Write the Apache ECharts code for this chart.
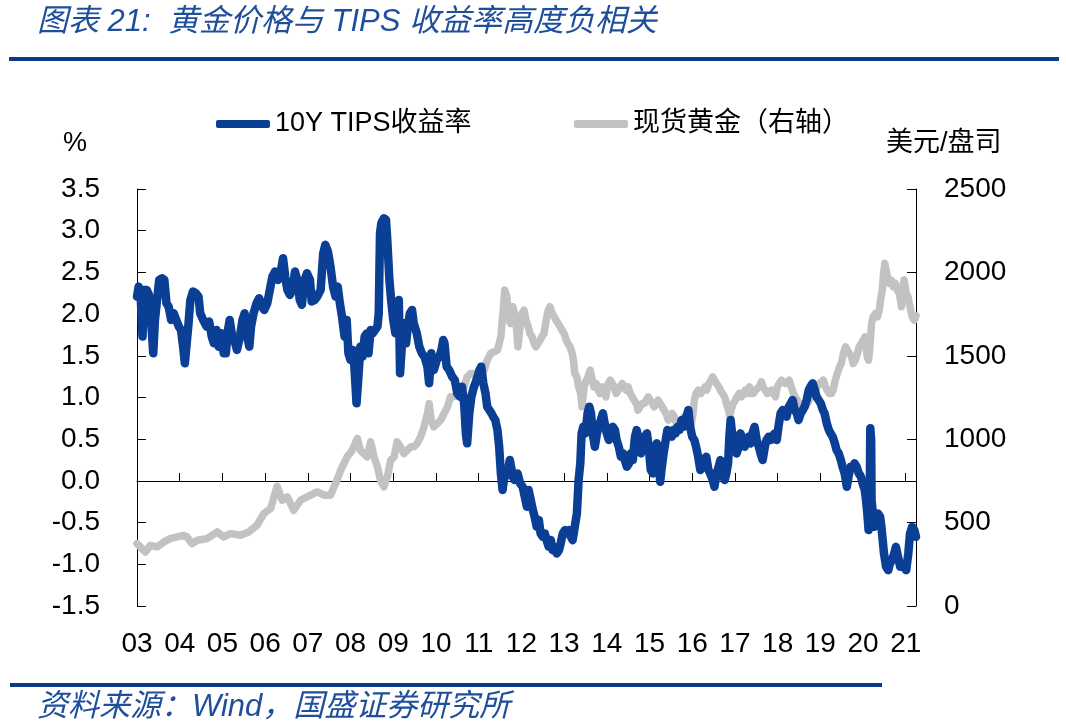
<!DOCTYPE html>
<html>
<head>
<meta charset="utf-8">
<script src="https://cdn.jsdelivr.net/npm/echarts@6/dist/echarts.min.js"></script>
<style>html,body{margin:0;padding:0;background:#fff;}#c{width:1066px;height:727px;}</style>
</head>
<body>
<div id="c"></div>
<script>
// ---- data ----
const tipsDates = [
2003.00,2003.04,2003.08,2003.13,2003.17,2003.23,2003.28,2003.33,2003.38,2003.42,2003.47,2003.52,2003.59,2003.64,2003.69,2003.74,2003.80,2003.86,2003.92,2003.98,
2004.03,2004.08,2004.12,2004.16,2004.20,2004.25,2004.31,2004.38,2004.44,2004.48,2004.55,2004.63,2004.69,2004.75,2004.80,2004.86,2004.91,2004.97,
2005.03,2005.08,2005.13,2005.17,2005.23,2005.28,2005.34,2005.41,2005.47,2005.52,2005.58,2005.63,2005.67,2005.73,2005.80,2005.86,2005.93,2005.98,
2006.05,2006.11,2006.17,2006.23,2006.30,2006.36,2006.42,2006.47,2006.52,2006.58,2006.64,2006.70,2006.77,2006.81,2006.86,2006.92,2006.98,
2007.05,2007.09,2007.16,2007.22,2007.30,2007.36,2007.41,2007.47,2007.53,2007.59,2007.65,2007.70,2007.75,2007.80,2007.86,2007.91,2007.95,
2008.00,2008.05,2008.09,2008.14,2008.19,2008.23,2008.28,2008.33,2008.38,2008.42,2008.47,2008.52,2008.56,2008.63,2008.66,2008.69,2008.72,2008.78,2008.83,2008.86,2008.91,2008.95,
2009.00,2009.05,2009.09,2009.13,2009.16,2009.20,2009.25,2009.30,2009.34,2009.39,2009.44,2009.48,2009.55,2009.61,2009.67,2009.73,2009.80,2009.84,2009.89,2009.95,
2010.02,2010.08,2010.13,2010.17,2010.20,2010.25,2010.31,2010.38,2010.44,2010.50,2010.56,2010.61,2010.66,2010.70,2010.73,2010.78,2010.83,2010.89,2010.95,
2011.02,2011.06,2011.11,2011.16,2011.20,2011.25,2011.30,2011.34,2011.39,2011.44,2011.48,2011.52,2011.56,2011.59,2011.64,2011.69,2011.73,2011.80,2011.84,2011.91,2011.97,
2012.03,2012.08,2012.13,2012.17,2012.22,2012.27,2012.31,2012.36,2012.41,2012.45,2012.50,2012.55,2012.59,2012.64,2012.69,2012.73,2012.78,2012.83,2012.88,2012.92,2012.97,
2013.02,2013.06,2013.11,2013.16,2013.20,2013.25,2013.30,2013.34,2013.38,2013.41,2013.45,2013.50,2013.55,2013.59,2013.63,2013.67,2013.72,2013.77,2013.81,2013.86,2013.91,2013.95,
2014.00,2014.05,2014.09,2014.14,2014.19,2014.23,2014.28,2014.33,2014.38,2014.42,2014.47,2014.52,2014.56,2014.61,2014.66,2014.70,2014.75,2014.80,2014.84,2014.89,2014.94,2014.98,
2015.03,2015.08,2015.13,2015.17,2015.22,2015.25,2015.28,2015.33,2015.38,2015.42,2015.47,2015.52,2015.56,2015.61,2015.66,2015.70,2015.75,2015.80,2015.84,2015.91,2015.95,
2016.00,2016.05,2016.09,2016.14,2016.19,2016.23,2016.28,2016.33,2016.38,2016.42,2016.48,2016.52,2016.57,2016.62,2016.66,2016.71,2016.76,2016.80,2016.84,2016.87,2016.90,2016.95,2016.99,
2017.04,2017.09,2017.13,2017.18,2017.23,2017.27,2017.32,2017.37,2017.41,2017.46,2017.51,2017.56,2017.60,2017.65,2017.70,2017.74,2017.79,2017.84,2017.88,2017.93,2017.98,
2018.02,2018.07,2018.12,2018.16,2018.21,2018.26,2018.31,2018.35,2018.40,2018.45,2018.49,2018.54,2018.59,2018.63,2018.68,2018.73,2018.77,2018.82,2018.87,2018.91,2018.96,
2019.01,2019.06,2019.10,2019.15,2019.20,2019.24,2019.29,2019.34,2019.38,2019.43,2019.48,2019.52,2019.57,2019.62,2019.66,2019.71,2019.76,2019.80,2019.85,2019.90,2019.95,2019.99,
2020.04,2020.07,2020.10,2020.13,2020.15,2020.16,2020.17,2020.19,2020.20,2020.23,2020.26,2020.31,2020.35,2020.40,2020.43,2020.46,2020.49,2020.54,2020.59,2020.63,2020.68,2020.73,2020.77,2020.82,2020.87,2020.91,2020.96,
2021.01,2021.06,2021.10,2021.15,2021.20,2021.24
];
const tipsValues = [
2.21,2.33,2.27,1.73,2.29,2.29,2.23,1.93,1.53,1.93,2.17,2.41,2.43,2.41,2.13,2.09,1.93,2.01,1.93,1.85,
1.81,1.61,1.41,1.39,1.85,2.17,2.27,2.25,2.21,2.01,1.93,1.85,1.91,1.73,1.65,1.81,1.61,1.77,
1.53,1.53,1.81,1.93,1.73,1.69,1.57,1.73,1.93,2.01,1.73,1.61,1.85,2.01,2.13,2.19,2.09,2.05,
2.13,2.29,2.45,2.51,2.41,2.49,2.67,2.45,2.29,2.23,2.29,2.51,2.37,2.17,2.11,2.41,2.49,
2.41,2.15,2.17,2.21,2.29,2.73,2.83,2.75,2.57,2.33,2.21,2.33,2.13,1.97,1.73,1.93,1.53,
1.45,1.57,1.37,0.93,1.29,1.61,1.49,1.73,1.77,1.53,1.81,1.77,1.77,1.85,2.01,2.97,3.09,3.15,3.13,2.89,2.41,2.17,
1.93,1.77,1.97,2.17,1.29,1.61,1.89,1.65,1.85,2.01,2.05,1.89,1.77,1.61,1.53,1.49,1.37,1.17,1.53,1.33,
1.45,1.49,1.57,1.69,1.65,1.37,1.33,1.25,1.21,1.05,1.01,1.13,0.93,0.57,0.45,0.81,1.01,1.13,1.21,
1.33,1.37,1.17,1.05,0.89,0.85,0.81,0.77,0.73,0.61,0.41,0.09,-0.11,0.01,0.09,0.13,0.25,0.05,0.01,0.09,-0.03,
-0.07,-0.19,-0.31,-0.11,-0.23,-0.35,-0.43,-0.55,-0.47,-0.63,-0.67,-0.63,-0.71,-0.79,-0.71,-0.83,-0.79,-0.87,-0.83,-0.75,-0.63,
-0.59,-0.63,-0.59,-0.67,-0.71,-0.55,-0.39,0.01,0.21,0.57,0.65,0.57,0.81,0.89,0.81,0.57,0.41,0.57,0.65,0.73,0.81,0.69,
0.57,0.49,0.57,0.65,0.61,0.49,0.41,0.29,0.33,0.25,0.17,0.21,0.33,0.25,0.53,0.61,0.49,0.33,0.41,0.53,0.57,0.41,
0.13,0.09,0.41,0.45,0.21,-0.01,0.13,0.33,0.49,0.61,0.57,0.53,0.61,0.57,0.65,0.61,0.73,0.65,0.73,0.85,0.65,
0.53,0.49,0.41,0.29,0.13,0.17,0.25,0.29,0.13,0.09,0.01,-0.07,0.09,0.17,0.25,0.09,0.01,0.09,0.21,0.53,0.73,0.49,0.41,
0.33,0.41,0.57,0.49,0.41,0.49,0.53,0.45,0.57,0.65,0.49,0.41,0.33,0.25,0.41,0.49,0.53,0.49,0.53,0.57,0.49,
0.65,0.81,0.85,0.81,0.77,0.89,0.93,0.97,0.85,0.81,0.73,0.81,0.85,0.89,0.97,1.09,1.13,1.17,1.09,1.01,0.97,
0.93,0.85,0.81,0.69,0.61,0.57,0.53,0.45,0.37,0.33,0.25,0.17,0.09,-0.07,0.05,0.17,0.17,0.21,0.17,0.09,0.05,-0.03,
-0.11,-0.23,-0.39,-0.59,-0.47,0.01,0.63,0.49,-0.23,-0.39,-0.55,-0.43,-0.39,-0.43,-0.55,-0.71,-0.87,-1.03,-1.07,-0.99,-0.95,-0.87,-0.79,-0.91,-1.03,-0.99,-1.03,
-1.07,-0.87,-0.63,-0.55,-0.59,-0.67
];
const goldDates = [
2003.00,2003.08,2003.20,2003.31,2003.47,2003.63,2003.78,2003.94,2004.09,2004.17,2004.29,2004.41,2004.64,2004.88,
2005.03,2005.19,2005.42,2005.62,2005.81,2005.97,2006.13,2006.28,2006.40,2006.52,2006.67,2006.83,2006.98,
2007.22,2007.38,2007.53,2007.65,2007.77,2007.92,2008.04,2008.16,2008.23,2008.31,2008.39,2008.47,2008.55,2008.63,2008.70,2008.78,2008.86,2008.94,
2009.02,2009.09,2009.17,2009.25,2009.33,2009.41,2009.48,2009.56,2009.64,2009.72,2009.80,2009.84,2009.89,2009.95,
2010.03,2010.11,2010.19,2010.27,2010.34,2010.42,2010.50,2010.58,2010.66,2010.73,2010.81,2010.89,2010.97,
2011.05,2011.13,2011.20,2011.28,2011.36,2011.44,2011.52,2011.58,2011.61,2011.66,2011.71,2011.75,2011.80,2011.84,2011.89,2011.92,2011.97,
2012.02,2012.06,2012.11,2012.16,2012.20,2012.25,2012.30,2012.34,2012.39,2012.44,2012.48,2012.53,2012.58,2012.63,2012.67,2012.72,2012.77,2012.81,2012.86,2012.91,2012.95,
2013.00,2013.05,2013.09,2013.14,2013.19,2013.22,2013.25,2013.30,2013.34,2013.39,2013.42,2013.47,2013.52,2013.56,2013.61,2013.66,2013.70,2013.75,2013.80,2013.84,2013.89,2013.94,2013.98,
2014.03,2014.08,2014.13,2014.17,2014.22,2014.27,2014.31,2014.36,2014.41,2014.45,2014.50,2014.55,2014.59,2014.64,2014.69,2014.73,2014.78,2014.83,2014.88,2014.92,2014.97,
2015.02,2015.06,2015.11,2015.16,2015.20,2015.25,2015.30,2015.34,2015.39,2015.44,2015.48,2015.53,2015.58,2015.63,2015.67,2015.72,2015.77,2015.81,2015.86,2015.91,2015.94,2015.97,
2016.02,2016.05,2016.09,2016.14,2016.20,2016.25,2016.30,2016.34,2016.39,2016.44,2016.48,2016.52,2016.57,2016.62,2016.66,2016.71,2016.76,2016.80,2016.85,2016.88,2016.91,2016.96,
2017.01,2017.05,2017.10,2017.15,2017.20,2017.24,2017.29,2017.34,2017.38,2017.43,2017.48,2017.52,2017.57,2017.62,2017.66,2017.71,2017.76,2017.80,2017.85,2017.90,2017.95,2017.99,
2018.04,2018.09,2018.13,2018.18,2018.23,2018.27,2018.32,2018.37,2018.41,2018.46,2018.51,2018.55,2018.60,2018.65,2018.70,2018.74,2018.79,2018.84,2018.88,2018.93,2018.98,
2019.02,2019.07,2019.12,2019.16,2019.21,2019.26,2019.30,2019.35,2019.40,2019.45,2019.49,2019.54,2019.59,2019.63,2019.68,2019.73,2019.77,2019.82,2019.87,2019.91,2019.96,
2020.01,2020.04,2020.07,2020.10,2020.13,2020.16,2020.20,2020.24,2020.29,2020.34,2020.38,2020.41,2020.45,2020.48,2020.51,2020.54,2020.57,2020.62,2020.66,2020.71,2020.76,2020.80,2020.85,2020.90,2020.93,2020.96,
2021.01,2021.05,2021.10,2021.15,2021.20,2021.24
];
const goldValues = [
374,354,324,364,354,384,404,414,424,414,374,394,404,444,
414,434,424,444,484,554,584,718,634,654,574,634,654,
684,664,664,734,814,894,934,1004,934,914,894,984,894,834,754,714,774,874,
894,984,954,914,934,954,954,974,1014,1074,1154,1214,1114,1074,
1094,1114,1154,1194,1254,1254,1274,1274,1314,1374,1394,1394,1354,
1374,1414,1474,1514,1524,1534,1614,1794,1894,1854,1714,1694,1794,1754,1654,1554,1674,
1754,1774,1714,1674,1634,1614,1574,1554,1574,1594,1614,1634,1714,1774,1794,1754,1734,1714,1694,1674,1654,
1634,1594,1574,1554,1514,1474,1394,1374,1314,1274,1194,1314,1354,1374,1414,1354,1314,1334,1294,1274,1314,1274,1254,
1334,1354,1334,1314,1274,1294,1314,1334,1314,1294,1314,1274,1254,1234,1214,1174,1194,1214,1214,1234,1254,
1234,1234,1194,1214,1234,1214,1194,1174,1154,1114,1114,1154,1134,1094,1074,1094,1114,1134,1114,1154,1114,1074,
1154,1234,1274,1294,1274,1294,1314,1294,1334,1354,1374,1354,1334,1314,1294,1274,1254,1214,1174,1134,1174,1214,
1234,1254,1274,1254,1274,1294,1274,1314,1274,1274,1294,1294,1314,1344,1314,1294,1274,1274,1294,1274,1254,1314,
1334,1354,1354,1334,1334,1354,1314,1274,1254,1234,1214,1194,1174,1194,1214,1234,1254,1274,1294,1314,1334,
1334,1354,1314,1294,1274,1274,1294,1354,1394,1434,1454,1514,1554,1534,1514,1494,1454,1474,1514,1554,1574,
1594,1614,1554,1494,1474,1554,1694,1734,1754,1734,1774,1834,1894,1994,2054,2014,1974,1934,1954,1914,1934,1894,1874,1794,1874,1954,
1874,1854,1794,1734,1714,1740
];
const leftTicks = { min: -1.5, max: 3.5, step: 0.5 };
const rightTicks = { min: 0, max: 2500, step: 500 };
const yearRange = { min: 2003, max: 2021.24 };

const tipsName = '10Y TIPS收益率';
const goldName = '现货黄金（右轴）';

const BLUE = '#0B3F95';
const GRAY = '#C2C2C2';
const TITLE_BLUE = '#1F4E9B';
const FONT = '"Liberation Sans", "Noto Sans CJK SC", sans-serif';

const tipsData = tipsDates.map((d, i) => [d, tipsValues[i]]);
const goldData = goldDates.map((d, i) => [d, goldValues[i]]);

const chart = echarts.init(document.getElementById('c'), null, { renderer: 'canvas' });
const axisLineStyle = { color: '#000', width: 1 };
const labelStyle = { color: '#000', fontSize: 28, fontFamily: FONT };

chart.setOption({
  animation: false,
  backgroundColor: '#fff',
  textStyle: { fontFamily: FONT },
  grid: { left: 137, right: 150, top: 189, bottom: 121, outerBoundsMode: 'none' },
  legend: [
    { left: 211, top: 104, data: [{ name: tipsName, icon: 'roundRect' }], itemWidth: 54, itemHeight: 8,
      textStyle: { fontSize: 27, color: '#000', fontFamily: FONT, lineHeight: 30 } },
    { left: 569, top: 104, data: [{ name: goldName, icon: 'roundRect' }], itemWidth: 54, itemHeight: 8,
      textStyle: { fontSize: 27, color: '#000', fontFamily: FONT, lineHeight: 30 } }
  ],
  xAxis: [
    { type: 'value', min: yearRange.min, max: yearRange.max, interval: 1,
      axisLine: { show: true, onZero: true, onZeroAxisIndex: 0, lineStyle: axisLineStyle },
      axisTick: { show: true, inside: true, length: 8, lineStyle: axisLineStyle },
      axisLabel: { show: false }, splitLine: { show: false } },
    { type: 'value', min: yearRange.min, max: yearRange.max, interval: 1, position: 'bottom',
      axisLine: { show: false, onZero: false }, axisTick: { show: false }, splitLine: { show: false },
      axisLabel: Object.assign({ show: true, margin: 24,
        formatter: v => Number.isInteger(v) ? String(v % 100).padStart(2, '0') : '' }, labelStyle) }
  ],
  yAxis: [
    { type: 'value', position: 'left', min: leftTicks.min, max: leftTicks.max, interval: leftTicks.step,
      axisLine: { show: true, onZero: false, lineStyle: axisLineStyle },
      axisTick: { show: true, inside: true, length: 9, lineStyle: axisLineStyle },
      axisLabel: Object.assign({ margin: 37, formatter: v => v.toFixed(1) }, labelStyle),
      splitLine: { show: false } },
    { type: 'value', position: 'right', min: rightTicks.min, max: rightTicks.max, interval: rightTicks.step,
      axisLine: { show: true, onZero: false, lineStyle: axisLineStyle },
      axisTick: { show: true, inside: true, length: 9, lineStyle: axisLineStyle },
      axisLabel: Object.assign({ margin: 28, formatter: v => String(Math.round(v)) }, labelStyle),
      splitLine: { show: false } }
  ],
  series: [
    { name: goldName, type: 'line', xAxisIndex: 0, yAxisIndex: 1, data: goldData, z: 2,
      showSymbol: false, symbol: 'none', color: GRAY, itemStyle: { color: GRAY },
      lineStyle: { color: GRAY, width: 7.5, cap: 'round', join: 'round' } },
    { name: tipsName, type: 'line', xAxisIndex: 0, yAxisIndex: 0, data: tipsData, z: 3,
      showSymbol: false, symbol: 'none', color: BLUE, itemStyle: { color: BLUE },
      lineStyle: { color: BLUE, width: 8.5, cap: 'round', join: 'round' } }
  ],
  graphic: [
    { type: 'text', left: 37, top: 7, style: { text: '图表 21:  黄金价格与 TIPS 收益率高度负相关',
      fill: TITLE_BLUE, font: 'italic 31px ' + FONT } },
    { type: 'rect', shape: { x: 9, y: 57, width: 1050, height: 4 }, style: { fill: '#0B3A86' } },
    { type: 'text', left: 63, top: 130, style: { text: '%', fill: '#000', font: '27px ' + FONT } },
    { type: 'text', left: 886, top: 130, style: { text: '美元/盘司', fill: '#000', font: '27px ' + FONT } },
    { type: 'rect', shape: { x: 10, y: 683, width: 872, height: 4 }, style: { fill: '#0B3A86' } },
    { type: 'text', left: 37, top: 692, style: { text: '资料来源：Wind，国盛证券研究所',
      fill: TITLE_BLUE, font: 'italic 31px ' + FONT } }
  ]
});
</script>
</body>
</html>
